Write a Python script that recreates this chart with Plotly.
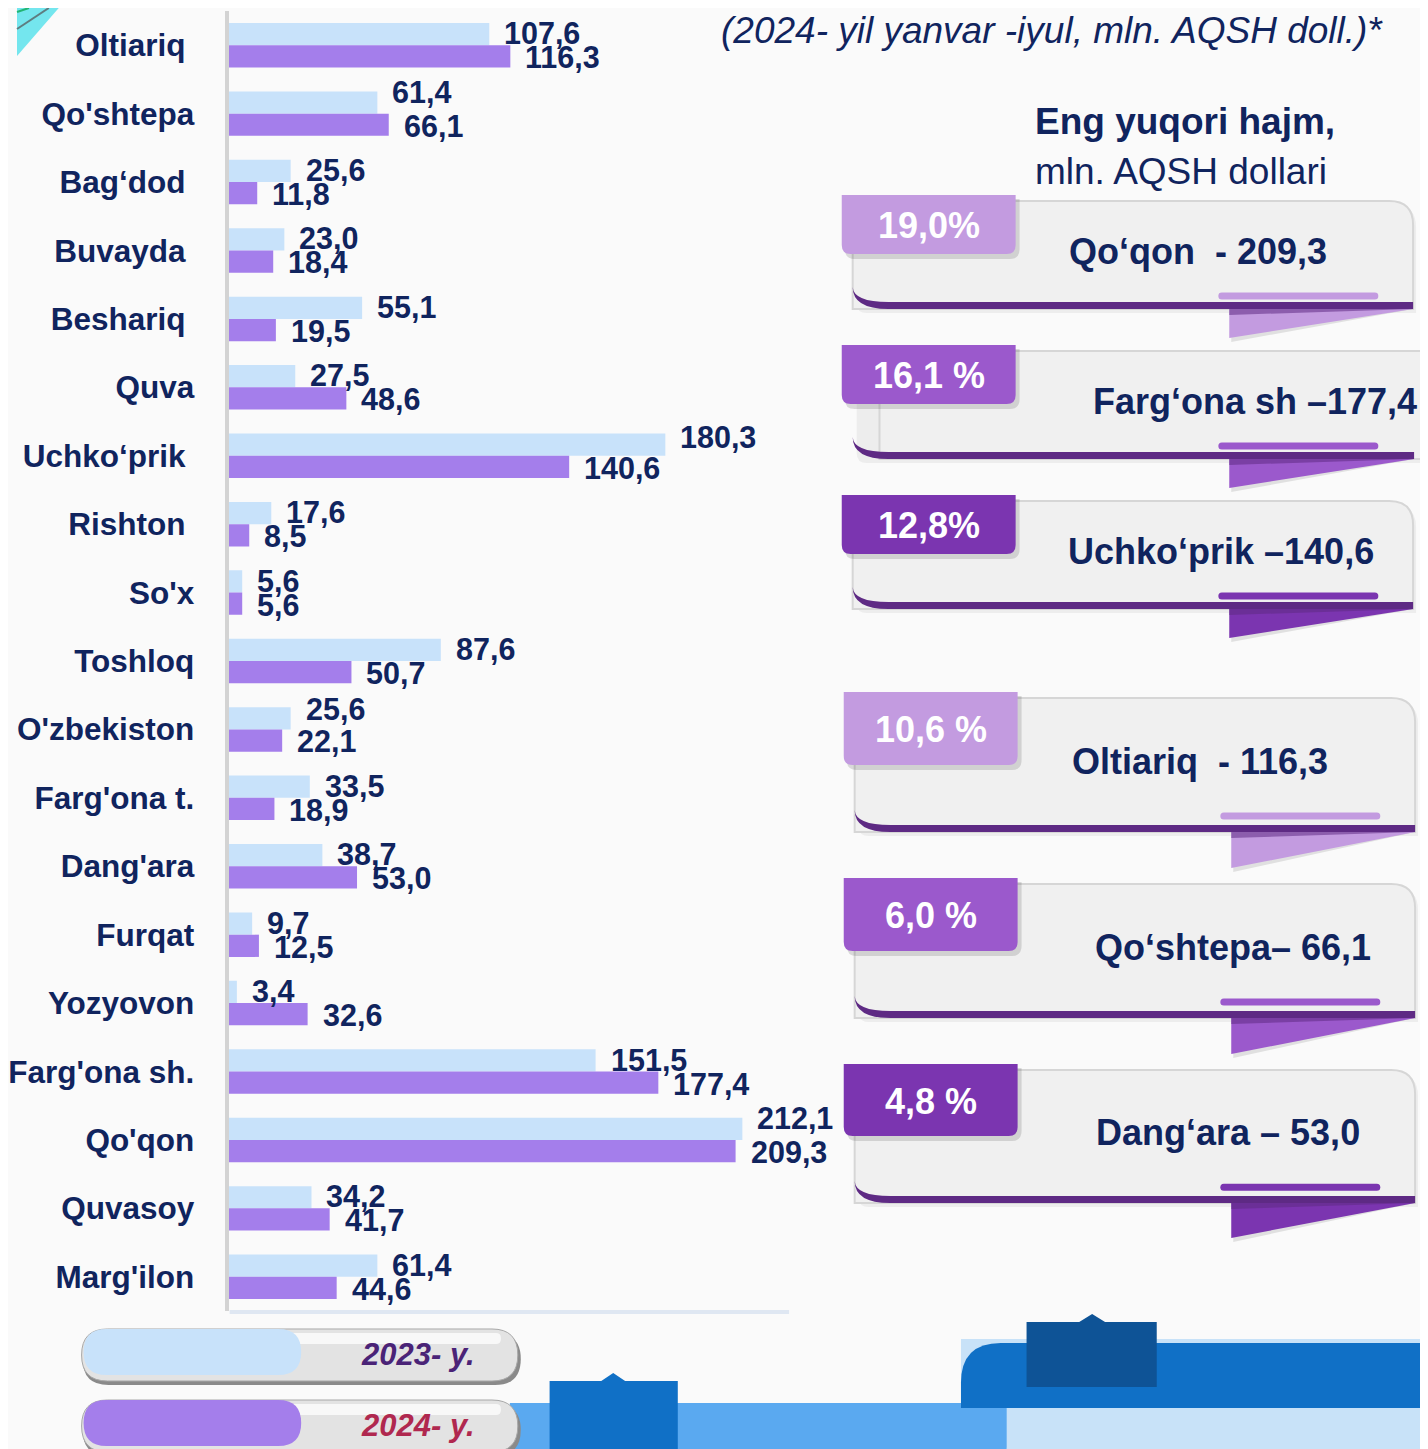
import plotly.graph_objects as go

# ---------------- data ----------------
CATEGORIES = ["Oltiariq", "Qo'shtepa", "Bag‘dod", "Buvayda", "Beshariq", "Quva",
              "Uchko‘prik", "Rishton", "So'x", "Toshloq", "O'zbekiston", "Farg'ona t.",
              "Dang'ara", "Furqat", "Yozyovon", "Farg'ona sh.", "Qo'qon", "Quvasoy",
              "Marg'ilon"]
VALUES_2023 = [107.6, 61.4, 25.6, 23.0, 55.1, 27.5, 180.3, 17.6, 5.6, 87.6, 25.6,
               33.5, 38.7, 9.7, 3.4, 151.5, 212.1, 34.2, 61.4]
VALUES_2024 = [116.3, 66.1, 11.8, 18.4, 19.5, 48.6, 140.6, 8.5, 5.6, 50.7, 22.1,
               18.9, 53.0, 12.5, 32.6, 177.4, 209.3, 41.7, 44.6]
SERIES_NAMES = ["2023- y.", "2024- y."]

TOP_SHARES = ["19,0%", "16,1 %", "12,8%", "10,6 %", "6,0 %", "4,8 %"]
TOP_LABELS = ["Qo‘qon  - 209,3", "Farg‘ona sh –177,4", "Uchko‘prik –140,6",
              "Oltiariq  - 116,3", "Qo‘shtepa– 66,1", "Dang‘ara – 53,0"]

SUBTITLE = "(2024- yil yanvar -iyul, mln. AQSH doll.)*"
SIDE_TITLE = "Eng yuqori hajm,"
SIDE_UNIT = "mln. AQSH dollari"

# labels that sit a little further from the axis in the original (trailing space)
PADDED_LABELS = {"Oltiariq", "Bag‘dod", "Buvayda", "Beshariq", "Uchko‘prik", "Rishton"}
# extra upward nudge (px) of a few 2023 value labels, as in the original
NUDGE_2023 = {"Qo'shtepa": 10, "Uchko‘prik": 7, "O'zbekiston": 8, "Qo'qon": 10}

# ---------------- style ----------------
OFF = 8                      # page body margin in the browser
W, H = 1428 - OFF, 1449 - OFF
NAVY = "#10245E"
C2023 = "#C8E2FA"
C2024 = "#A47EEB"
LIGHT_P = "#C39BE0"
MID_P = "#9B59CC"
DARK_P = "#7B35B0"
STRIPE = "#5E2A84"
FONT = "Liberation Sans, Arial, sans-serif"


def fmt(v):
    return f"{v:.1f}".replace(".", ",")


def px(x):
    return (x - OFF) / W


def py(y):
    return 1 - (y - OFF) / H


def P(x, y):
    return f"{px(x):.5f},{py(y):.5f}"


def rrect(x0, y0, x1, y1, r=(0, 0, 0, 0)):
    tl, tr, br, bl = r
    return (f"M {P(x0 + tl, y0)} L {P(x1 - tr, y0)} Q {P(x1, y0)} {P(x1, y0 + tr)} "
            f"L {P(x1, y1 - br)} Q {P(x1, y1)} {P(x1 - br, y1)} L {P(x0 + bl, y1)} "
            f"Q {P(x0, y1)} {P(x0, y1 - bl)} L {P(x0, y0 + tl)} Q {P(x0, y0)} {P(x0 + tl, y0)} Z")


shapes = []
annotations = []


def add_path(d, fill, line_color=None, line_width=0):
    shapes.append(dict(type="path", path=d, xref="paper", yref="paper", fillcolor=fill,
                       line=dict(width=line_width, color=line_color or fill)))


def add_text(x, y, text, size, color=NAVY, weight="bold", style="normal",
             xanchor="center", yanchor="middle"):
    annotations.append(dict(x=px(x), y=py(y), xref="paper", yref="paper", text=text,
                            showarrow=False, xanchor=xanchor, yanchor=yanchor,
                            font=dict(family=FONT, size=size, color=color,
                                      weight=weight, style=style)))


# ---------------- bars ----------------
fig = go.Figure()
fig.add_trace(go.Bar(y=CATEGORIES, x=VALUES_2023, orientation="h", name=SERIES_NAMES[0],
                     marker=dict(color=C2023, line=dict(width=0))))
fig.add_trace(go.Bar(y=CATEGORIES, x=VALUES_2024, orientation="h", name=SERIES_NAMES[1],
                     marker=dict(color=C2024, line=dict(width=0))))

# value labels
for vals, ys, nudge in ((VALUES_2023, 12, NUDGE_2023), (VALUES_2024, -12, {})):
    for cat, v in zip(CATEGORIES, vals):
        annotations.append(dict(x=v, y=cat, xref="x", yref="y", text=fmt(v), showarrow=False,
                                xanchor="left", yanchor="middle", xshift=13,
                                yshift=ys + nudge.get(cat, 0),
                                font=dict(family=FONT, size=30.5, color=NAVY, weight="bold")))

# ---------------- decorations ----------------
# top-left corner
add_path(f"M {P(OFF, OFF)} L {P(50, OFF)} L {P(OFF, 56)} Z", "#74E6EE")
shapes.append(dict(type="line", xref="paper", yref="paper", x0=px(OFF), y0=py(12),
                   x1=px(20), y1=py(OFF), line=dict(color="#22B573", width=2)))
shapes.append(dict(type="line", xref="paper", yref="paper", x0=px(OFF), y0=py(29),
                   x1=px(40), y1=py(OFF), line=dict(color="#5E7D80", width=2)))

# faint base line under chart
shapes.append(dict(type="line", xref="paper", yref="paper", x0=px(222), y0=py(1312),
                   x1=px(785), y1=py(1312), line=dict(color="rgba(200,215,235,0.55)", width=4)))

# subtitle & side titles
add_text(714, OFF, SUBTITLE, 37, weight="normal", style="italic", xanchor="left", yanchor="top")
add_text(1030, 122, SIDE_TITLE, 37, xanchor="left")
add_text(1030, 172, SIDE_UNIT, 37, weight="normal", xanchor="left")

# callout boxes
TAB_COLORS = [LIGHT_P, MID_P, DARK_P, LIGHT_P, MID_P, DARK_P]
BOX_TOPS = [195, 345, 495, 692, 878, 1064]
BOX_HEIGHTS = [114, 114, 114, 140, 140, 139]
BOX_RIGHTS = [1413, 1445, 1413, 1415, 1415, 1415]
BOX_LEFTS = [849, 876, 849, 851, 851, 851]
TEXT_CENTERS = [1197, 1254, 1220, 1199, 1232, 1227]

for i in range(6):
    T, Hb, R, L = BOX_TOPS[i], BOX_HEIGHTS[i], BOX_RIGHTS[i], BOX_LEFTS[i]
    col = TAB_COLORS[i]
    dx = 0 if i < 3 else 2
    tab_h = round(0.52 * Hb)
    bottom = T + Hb
    # box shadow
    add_path(rrect(853 + dx, T + 10, min(R + 3, 1440), bottom + 4, (0, 22, 0, 10)),
             "rgba(0,0,0,0.05)")
    # main box
    add_path(rrect(L, T + 6, R, bottom, (0, 24, 0, 0)), "#F0F0F0",
             line_color="#D6D6D6", line_width=2)
    # bottom stripe with curl
    sr = min(R, 1414 + dx)
    add_path(f"M {P(849 + dx, bottom - 22)} Q {P(850 + dx, bottom - 7)} {P(885 + dx, bottom - 7)} "
             f"L {P(sr, bottom - 7)} L {P(sr, bottom)} L {P(885 + dx, bottom)} "
             f"Q {P(849 + dx, bottom)} {P(849 + dx, bottom - 22)} Z", STRIPE)
    # ribbon triangle
    tri_h = round(0.255 * Hb)
    add_path(f"M {P(1230 + dx, bottom + 4)} L {P(sr, bottom)} L {P(1230 + dx, bottom + tri_h + 4)} Z",
             "rgba(0,0,0,0.10)")
    add_path(f"M {P(1228 + dx, bottom)} L {P(sr, bottom)} L {P(1228 + dx, bottom + tri_h)} Z", col)
    add_path(f"M {P(1228 + dx, bottom)} L {P(sr, bottom)} L {P(1228 + dx, bottom + 6)} Z",
             "rgba(94,42,132,0.55)")
    # underline pill
    pyc = T + 0.886 * Hb
    add_path(rrect(1217 + dx, pyc - 3.5, 1378 + dx, pyc + 3.5, (3.5, 3.5, 3.5, 3.5)), col)
    # tab shadow + tab
    add_path(rrect(841 + dx, T + 4, 1017 + dx, T + tab_h + 5, (0, 0, 10, 10)), "rgba(0,0,0,0.13)")
    add_path(rrect(838 + dx, T, 1013 + dx, T + tab_h, (0, 0, 9, 9)), col)
    add_text(926 + dx, T + 0.27 * Hb, TOP_SHARES[i], 36, color="white")
    add_text(TEXT_CENTERS[i], T + 0.495 * Hb, TOP_LABELS[i], 36)

# bottom blue decorations
add_path(rrect(958, 1339, 1440, 1460), "#C8E2F8")
add_path(rrect(504, 1403, 1004, 1460, (0, 0, 14, 0)), "#5AA9F0")
add_path(rrect(958, 1343, 1440, 1408, (40, 0, 0, 0)), "#1070C6")
add_path(f"M {P(1024, 1322)} L {P(1077, 1322)} L {P(1090, 1314)} L {P(1103, 1322)} "
         f"L {P(1155, 1322)} L {P(1155, 1387)} L {P(1024, 1387)} Z", "#0E5396")
add_path(f"M {P(544, 1381)} L {P(596, 1381)} L {P(608, 1373)} L {P(620, 1381)} "
         f"L {P(673, 1381)} L {P(673, 1452)} L {P(544, 1452)} Z", "#1070C6")

# legend pills
LEG = [(1329, 1381, C2023, "#4A2377"), (1400, 1452, C2024, "#B0284F")]
for (y0, y1, col, tcol), name in zip(LEG, SERIES_NAMES):
    r = (y1 - y0) / 2
    add_path(rrect(74, y0 + 4, 515, y1 + 4, (r, r, r, r)), "#8A8A8A")
    add_path(rrect(73, y0, 512, y1, (r, r, r, r)), "#E3E3E3", line_color="#A8A8A8", line_width=1)
    add_path(rrect(90, y0 + 4, 495, y0 + 15, (5, 5, 5, 5)), "rgba(255,255,255,0.75)")
    add_path(rrect(75, y0, 294, y1 - 6, (r - 3, r - 3, r - 3, r - 3)), col)
    add_text(471, (y0 + y1) / 2 - 1, name, 31, color=tcol, style="italic", xanchor="right")

# ---------------- layout ----------------
X_LEFT, X_RIGHT = 221, 850
PX_PER_UNIT = (738 - 221) / 212.1
tick_text = [c + ("\u00a0" if c in PADDED_LABELS else "") for c in CATEGORIES]
fig.update_layout(
    width=W, height=H,
    margin=dict(l=0, r=0, t=0, b=0),
    paper_bgcolor="#FAFAFA", plot_bgcolor="rgba(0,0,0,0)",
    barmode="group", bargap=0.35, bargroupgap=0,
    showlegend=False,
    xaxis=dict(domain=[px(X_LEFT), px(X_RIGHT)],
               range=[0, (X_RIGHT - X_LEFT) / PX_PER_UNIT],
               visible=False, fixedrange=True),
    yaxis=dict(domain=[py(1311), py(11)], type="category",
               categoryorder="array", categoryarray=CATEGORIES,
               tickmode="array", tickvals=CATEGORIES, ticktext=tick_text,
               autorange="reversed", showgrid=False, zeroline=False,
               showline=True, linecolor="#D3D3D3", linewidth=4,
               ticks="", ticklabelstandoff=24,
               tickfont=dict(family=FONT, size=31.5, color=NAVY, weight="bold")),
    shapes=shapes,
    annotations=annotations,
)

fig.write_html("out.html")
